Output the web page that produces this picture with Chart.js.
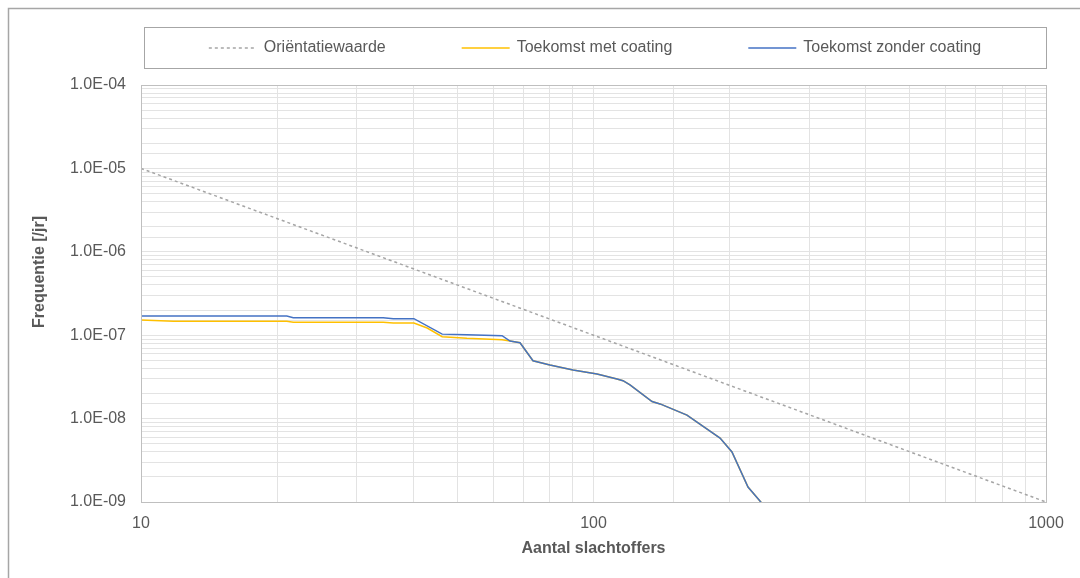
<!DOCTYPE html>
<html>
<head>
<meta charset="utf-8">
<script src="https://cdn.jsdelivr.net/npm/chart.js@4"></script>
<style>
  html, body { margin: 0; padding: 0; background: #fff; }
  #wrap { width: 1080px; height: 578px; }
</style>
</head>
<body>
<div id="wrap"><canvas id="chartFN"></canvas></div>
<script>
const SERIES_LABELS = ['Oriëntatiewaarde', 'Toekomst met coating', 'Toekomst zonder coating'];

// orientatiewaarde (straight line on log-log)
const GUIDE_X = [10, 1000];
const GUIDE_Y = [1.0e-5, 1.0e-9];

// Toekomst met coating
const WITH_X = [10, 11.8, 21.0, 21.7, 34.3, 36.1, 40.1, 42.9, 46.3, 52.5, 62.8, 65.4, 68.8, 73.5, 80.1, 90.1, 101.8, 112.7, 116.2, 120.4, 134.7, 140.3, 160.9, 190.4, 202.3, 219.5, 235.8];
const WITH_Y = [1.52e-7, 1.47e-7, 1.47e-7, 1.43e-7, 1.43e-7, 1.40e-7, 1.40e-7, 1.22e-7, 9.6e-8, 9.18e-8, 8.83e-8, 8.52e-8, 8.13e-8, 4.94e-8, 4.40e-8, 3.83e-8, 3.43e-8, 2.99e-8, 2.85e-8, 2.53e-8, 1.60e-8, 1.50e-8, 1.10e-8, 5.85e-9, 3.98e-9, 1.51e-9, 9.6e-10];

// Toekomst zonder coating
const WITHOUT_X = [10, 21.0, 21.7, 34.3, 36.1, 40.1, 46.3, 52.5, 62.8, 65.4, 68.8, 73.5, 80.1, 90.1, 101.8, 112.7, 116.2, 120.4, 134.7, 140.3, 160.9, 190.4, 202.3, 219.5, 235.8];
const WITHOUT_Y = [1.70e-7, 1.70e-7, 1.62e-7, 1.62e-7, 1.58e-7, 1.58e-7, 1.03e-7, 1.01e-7, 9.86e-8, 8.52e-8, 8.13e-8, 4.94e-8, 4.40e-8, 3.83e-8, 3.43e-8, 2.99e-8, 2.85e-8, 2.53e-8, 1.60e-8, 1.50e-8, 1.10e-8, 5.85e-9, 3.98e-9, 1.51e-9, 9.6e-10];

const X_MIN = 10, X_MAX = 1000;
const Y_MIN = 1e-9, Y_MAX = 1e-4;

const FONT = "'Liberation Sans', Arial, sans-serif";
const TEXT_COLOR = '#595959';

function toPoints(xs, ys) {
    return xs.map((x, i) => ({ x: x, y: ys[i] }));
}

function isDecade(v) {
    const l = Math.log10(v);
    return Math.abs(l - Math.round(l)) < 1e-9;
}

function sciLabel(v) {
    const e = Math.round(Math.log10(v));
    const m = v / Math.pow(10, e);
    const sign = e < 0 ? '-' : '+';
    return m.toFixed(1) + 'E' + sign + String(Math.abs(e)).padStart(2, '0');
}

// frame, plot border, legend box and the y title
const decorations = {
    id: 'decorations',
    afterDraw(chart) {
        const { ctx, chartArea: a } = chart;
        ctx.save();

        ctx.strokeStyle = '#a6a6a6';
        ctx.lineWidth = 1.5;
        ctx.beginPath();
        ctx.moveTo(8.5, chart.height);
        ctx.lineTo(8.5, 8.5);
        ctx.lineTo(chart.width, 8.5);
        ctx.stroke();

        ctx.strokeStyle = '#bfbfbf';
        ctx.lineWidth = 1;
        ctx.strokeRect(a.left + 0.5, a.top + 0.5, a.right - a.left, a.bottom - a.top);

        // legend
        const boxLeft = a.left + 3, boxTop = 27, boxW = a.right - a.left - 3, boxH = 41;
        ctx.strokeStyle = '#a6a6a6';
        ctx.strokeRect(boxLeft + 0.5, boxTop + 0.5, boxW, boxH);

        ctx.font = '16px ' + FONT;
        const sample = 48, gapText = 7, gapItem = 76;
        const widths = chart.data.datasets.map(ds => sample + gapText + ctx.measureText(ds.label).width);
        const total = widths.reduce((s, w) => s + w, 0) + gapItem * (widths.length - 1);
        let x = boxLeft + (boxW - total) / 2;
        const yMid = boxTop + boxH / 2 + 0.5;
        chart.data.datasets.forEach((ds, i) => {
            ctx.strokeStyle = ds.borderColor;
            ctx.lineWidth = ds.borderWidth;
            ctx.setLineDash(ds.borderDash || []);
            ctx.beginPath();
            ctx.moveTo(x, yMid);
            ctx.lineTo(x + sample, yMid);
            ctx.stroke();
            ctx.setLineDash([]);
            ctx.fillStyle = TEXT_COLOR;
            ctx.textBaseline = 'middle';
            ctx.textAlign = 'left';
            ctx.fillText(ds.label, x + sample + gapText, yMid);
            x += widths[i] + gapItem;
        });

        // y title
        ctx.translate(40, 272);
        ctx.rotate(-Math.PI / 2);
        ctx.font = 'bold 16px ' + FONT;
        ctx.textAlign = 'center';
        ctx.textBaseline = 'middle';
        ctx.fillStyle = TEXT_COLOR;
        ctx.fillText('Frequentie [/jr]', 0, 0);

        ctx.restore();
    }
};

Chart.defaults.font.family = FONT;
Chart.defaults.font.size = 16;
Chart.defaults.color = TEXT_COLOR;

const data = {
    datasets: [{
        label: SERIES_LABELS[0],
        data: toPoints(GUIDE_X, GUIDE_Y),
        borderColor: '#a5a5a5',
        borderWidth: 1.5,
        borderDash: [3, 3],
        pointRadius: 0,
        order: 2,
    },
    {
        label: SERIES_LABELS[1],
        data: toPoints(WITH_X, WITH_Y),
        borderColor: '#FFC000',
        borderWidth: 1.5,
        pointRadius: 0,
        order: 1,
    },
    {
        label: SERIES_LABELS[2],
        data: toPoints(WITHOUT_X, WITHOUT_Y),
        borderColor: '#4472C4',
        borderWidth: 1.5,
        pointRadius: 0,
        order: 0,
    }]
};

const config = {
    type: 'line',
    data: data,
    options: {
        responsive: true,
        maintainAspectRatio: false,
        animation: false,
        layout: { padding: { top: 85, right: 34, left: 0, bottom: 0 } },
        plugins: {
            legend: { display: false },
            tooltip: { enabled: false },
        },
        scales: {
            x: {
                type: 'logarithmic',
                min: X_MIN,
                max: X_MAX,
                afterFit: (scale) => { scale.height = 76; },
                grid: { color: '#e3e3e3', drawTicks: false },
                border: { display: false },
                ticks: {
                    autoSkip: false,
                    maxRotation: 0,
                    padding: 12,
                    callback: (v) => isDecade(v) ? String(Math.round(v)) : '',
                },
                title: {
                    display: true,
                    text: 'Aantal slachtoffers',
                    font: { weight: 'bold', size: 16 },
                    padding: { top: 0, bottom: 20 },
                }
            },
            y: {
                type: 'logarithmic',
                min: Y_MIN,
                max: Y_MAX,
                afterFit: (scale) => { scale.width = 141; },
                grid: { color: '#e3e3e3', drawTicks: false },
                border: { display: false },
                ticks: {
                    autoSkip: false,
                    padding: 15,
                    callback: (v) => isDecade(v) ? sciLabel(v) : '',
                }
            }
        }
    },
    plugins: [decorations]
};

const chartFN = new Chart(document.getElementById('chartFN'), config);
</script>
</body>
</html>
